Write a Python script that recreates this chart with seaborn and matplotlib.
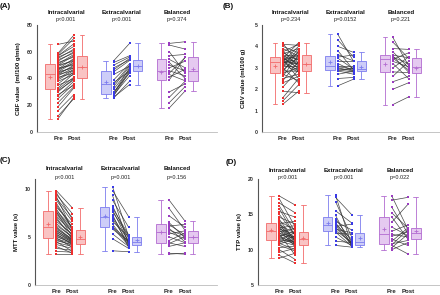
import numpy as np
import pandas as pd
import seaborn as sns
import matplotlib
matplotlib.use("Agg")
import matplotlib.pyplot as plt
import matplotlib.transforms as mtransforms

# groups and time points
groups = ["Intracalvarial", "Extracalvarial", "Balanced"]
times = ["Pre", "Post"]

# ---- CBF (ml/100 g/min) ----
cbf_intra_pre = [10, 12, 16, 19, 22, 25, 27, 28, 30, 31, 32, 33, 35, 36, 38, 39, 40, 41, 42, 43, 43,
                 44, 45, 45, 46, 47, 47, 48, 49, 50, 50, 51, 52, 53, 54, 55, 56, 57, 57, 58, 59, 65.5]
cbf_intra_post = [26, 25, 28, 33, 34, 36, 38, 35, 40, 39, 41, 44, 40, 45, 43, 46, 47, 44, 48, 50, 46,
                  49, 52, 48, 53, 51, 55, 50, 54, 57, 53, 58, 56, 60, 59, 62, 61, 64, 66, 70, 72.5, 68]
cbf_extra_pre = [25.5, 26, 27, 28, 28.5, 29, 30, 32, 34, 35.75, 37, 39, 43, 45, 46.5, 48, 50, 52, 53.25]
cbf_extra_post = [38, 35.5, 45, 42, 46, 48, 44, 47, 49, 50, 45.5, 51, 49.25, 53.5, 55, 54, 56, 57, 66.25]
cbf_bal_pre = [18, 22, 26, 30, 39, 41, 43, 44, 45.75, 48, 50, 52, 54.25, 57, 60, 65, 66.25]
cbf_bal_post = [30.75, 34, 38, 36, 56, 47, 38.25, 55.75, 42, 53, 45.75, 40, 48, 58, 44, 62, 67.5]

# ---- CBV (ml/100 g) ----
cbv_intra_pre = [1.3, 1.45, 1.6, 1.9, 2.1, 2.3, 2.4, 2.5, 2.6, 2.7, 2.75, 2.8, 2.85, 2.9, 3.0, 3.05,
                 3.1, 3.15, 3.2, 3.22, 3.24, 3.26, 3.3, 3.32, 3.35, 3.38, 3.4, 3.42, 3.44, 3.46, 3.47,
                 3.5, 3.55, 3.6, 3.65, 3.7, 3.75, 3.8, 3.9, 4.0, 4.1, 4.14]
cbv_intra_post = [1.9, 2.2, 2.5, 1.84, 2.9, 2.6, 3.3, 2.7, 3.6, 2.4, 3.0, 3.8, 2.84, 3.5, 2.3, 3.9,
                  3.1, 2.8, 3.7, 2.9, 3.4, 3.2, 4.0, 2.85, 3.15, 3.56, 2.5, 3.25, 4.17, 3.0, 3.45,
                  2.95, 3.6, 3.16, 3.9, 3.35, 4.1, 3.05, 3.55, 3.7, 4.05, 3.2]
cbv_extra_pre = [2.16, 2.5, 2.7, 2.85, 2.88, 2.9, 2.95, 3.0, 3.05, 3.1, 3.2, 3.3, 3.45, 3.5, 3.62,
                 3.8, 4.0, 4.3, 4.56]
cbv_extra_post = [2.47, 2.55, 2.84, 2.7, 3.0, 2.8, 2.9, 2.84, 2.95, 3.1, 2.85, 3.3, 2.94, 3.6, 3.32,
                  2.9, 3.72, 3.5, 3.3]
cbv_bal_pre = [1.28, 2.0, 2.35, 2.6, 2.81, 3.0, 3.2, 3.3, 3.4, 3.45, 3.5, 3.55, 3.59, 3.75, 3.9, 4.2, 4.42]
cbv_bal_post = [1.64, 2.3, 2.6, 3.3, 2.77, 3.5, 2.5, 3.05, 3.7, 2.9, 3.2, 2.8, 3.47, 3.0, 3.86, 3.45, 3.1]

# ---- MTT (s) ----
mtt_intra_pre = [3.2, 3.5, 3.8, 4.0, 4.2, 4.4, 4.5, 4.6, 4.7, 4.8, 4.9, 5.0, 5.1, 5.2, 5.3, 5.4, 5.5,
                 5.6, 5.7, 5.8, 5.95, 6.05, 6.2, 6.4, 6.6, 6.8, 7.0, 7.1, 7.3, 7.5, 7.6, 7.7, 7.9, 8.1,
                 8.3, 8.5, 8.8, 9.0, 9.2, 9.4, 9.6, 9.8]
mtt_intra_post = [3.2, 3.4, 3.6, 3.3, 3.8, 4.0, 3.5, 4.2, 4.1, 4.3, 3.9, 4.4, 4.3, 4.5, 4.2, 4.6, 4.4,
                  4.7, 4.5, 4.8, 4.6, 4.7, 5.0, 4.9, 5.3, 5.2, 4.8, 5.5, 5.6, 5.8, 5.0, 6.0, 5.4, 6.3,
                  5.9, 5.9, 6.6, 7.0, 5.7, 7.4, 6.8, 8.0]
mtt_extra_pre = [3.55, 4.8, 5.3, 5.8, 6.0, 6.05, 6.3, 6.6, 6.9, 7.07, 7.3, 7.6, 7.8, 8.0, 8.2, 8.8,
                 9.3, 9.8, 10.2]
mtt_extra_post = [3.45, 3.8, 4.0, 4.5, 4.1, 4.55, 4.2, 5.0, 4.3, 4.6, 3.9, 5.1, 4.45, 5.2, 4.8, 6.0,
                  4.14, 7.1, 5.05]
mtt_bal_pre = [3.2, 3.3, 4.0, 4.3, 4.38, 4.6, 5.0, 5.3, 5.48, 5.7, 5.9, 6.1, 6.28, 6.5, 7.2, 8.0, 8.86]
mtt_bal_post = [3.3, 3.2, 4.38, 5.0, 4.0, 5.4, 4.4, 5.62, 4.8, 5.1, 4.5, 6.3, 5.2, 4.9, 6.0, 5.7, 6.65]

# ---- TTP (s) ----
ttp_intra_pre = [8.8, 9.2, 9.6, 10.0, 10.3, 10.6, 10.8, 10.9, 11.0, 11.2, 11.3, 11.4, 11.6, 11.8, 11.9,
                 12.0, 12.1, 12.2, 12.3, 12.4, 12.5, 12.7, 12.8, 12.9, 13.0, 13.1, 13.2, 13.3, 13.5,
                 13.6, 13.7, 13.8, 14.0, 14.3, 14.6, 15.0, 15.4, 15.8, 16.2, 16.6, 17.2, 17.6]
ttp_intra_post = [9.5, 8.1, 10.2, 8.6, 10.5, 9.8, 11.5, 10.0, 12.0, 10.6, 11.2, 12.4, 10.8, 11.0, 12.6,
                  10.7, 11.6, 9.2, 11.8, 10.9, 13.0, 11.4, 10.4, 12.2, 11.55, 13.4, 10.7, 11.7, 12.3,
                  10.9, 14.0, 11.3, 12.8, 11.1, 13.6, 12.0, 14.6, 11.9, 12.5, 15.2, 13.2, 16.3]
ttp_extra_pre = [10.6, 11.2, 11.8, 12.3, 12.5, 12.7, 12.9, 13.1, 13.3, 13.45, 13.6, 13.8, 14.0, 14.4,
                 14.86, 15.5, 16.8, 17.4, 17.7]
ttp_extra_post = [10.36, 11.0, 10.6, 12.2, 10.5, 11.07, 12.4, 10.8, 13.6, 10.7, 11.5, 10.9, 12.8, 11.2,
                  10.45, 13.8, 11.8, 14.97, 10.65]
ttp_bal_pre = [10.0, 10.3, 10.6, 10.7, 10.84, 11.2, 11.5, 11.9, 12.17, 12.6, 13.2, 13.9, 14.63, 15.2,
               16.0, 17.0, 17.6]
ttp_bal_post = [11.0, 12.17, 9.4, 12.8, 11.3, 13.07, 10.6, 12.5, 11.8, 13.5, 12.0, 16.4, 11.5, 13.07,
                12.3, 17.4, 12.9]

pvals = {
    "CBF": ["p<0.001", "p<0.001", "p=0.374"],
    "CBV": ["p=0.234", "p=0.0152", "p=0.221"],
    "MTT": ["p<0.001", "p=0.001", "p=0.156"],
    "TTP": ["p<0.001", "p<0.001", "p=0.022"],
}

series = {
    "CBF": [(cbf_intra_pre, cbf_intra_post), (cbf_extra_pre, cbf_extra_post), (cbf_bal_pre, cbf_bal_post)],
    "CBV": [(cbv_intra_pre, cbv_intra_post), (cbv_extra_pre, cbv_extra_post), (cbv_bal_pre, cbv_bal_post)],
    "MTT": [(mtt_intra_pre, mtt_intra_post), (mtt_extra_pre, mtt_extra_post), (mtt_bal_pre, mtt_bal_post)],
    "TTP": [(ttp_intra_pre, ttp_intra_post), (ttp_extra_pre, ttp_extra_post), (ttp_bal_pre, ttp_bal_post)],
}

# long table
rows = []
for metric, grp_list in series.items():
    for g, (pre, post) in enumerate(grp_list):
        for i, (a, b) in enumerate(zip(pre, post)):
            rows.append((metric, groups[g], "Pre", f"{g}-{i}", a))
            rows.append((metric, groups[g], "Post", f"{g}-{i}", b))
df = pd.DataFrame(rows, columns=["metric", "group", "time", "pid", "value"])

# x layout per group: box pre, pre points, post points, box post
g_off = {grp: 7 * k for k, grp in enumerate(groups)}
df["pos"] = df["group"].map(g_off) + df["time"].map({"Pre": 1, "Post": 3})
df["bpos"] = df["group"].map(g_off) + df["time"].map({"Pre": 0, "Post": 4})

edge = {"Intracalvarial": "#F26A6A", "Extracalvarial": "#7C7CEE", "Balanced": "#B26BD0"}
fill = {"Intracalvarial": "#F9C3C3", "Extracalvarial": "#CDCDF8", "Balanced": "#E5C9F0"}
dots = {"Intracalvarial": "#EE2E2E", "Extracalvarial": "#3A3AE6", "Balanced": "#9A3CC0"}

sns.set_theme(style="white")
plt.rcParams["font.family"] = ["Liberation Sans", "DejaVu Sans"]

fig = plt.figure(figsize=(4.4, 2.95), dpi=100)
W, H = 440.0, 295.0

panels = [
    # label, metric, ylabel, ylim, yticks, axes px (left, right, top, bottom), label px, text px
    ("(A)", "CBF", "CBF value  (ml/100 g/min)", (0, 80), [0, 20, 40, 60, 80], (37, 217, 25, 132), (0, 6), (12, 20)),
    ("(B)", "CBV", "CBV value (ml/100 g)", (0, 5), [0, 1, 2, 3, 4, 5], (262, 440, 25, 132), (223, 6), (12, 20)),
    ("(C)", "MTT", "MTT value (s)", (0, 11), [0, 5, 10], (35, 217, 179, 285), (0, 161), (169, 177)),
    ("(D)", "TTP", "TTP value (s)", (5, 20), [5, 10, 15, 20], (258, 440, 179, 285), (226, 162), (170, 178)),
]

for lab, metric, ylab, ylim, yticks, (l, r, t, b), (lx, ly), (ty, py) in panels:
    ax = fig.add_axes([l / W, 1 - b / H, (r - l) / W, (b - t) / H])
    sub = df[df["metric"] == metric]
    for grp in groups:
        gs = sub[sub["group"] == grp]
        sns.boxplot(data=gs, x="bpos", y="value", orient="x", native_scale=True,
                    color=fill[grp], linecolor=edge[grp], saturation=1, width=0.3,
                    whis=(0, 100), linewidth=0.6, showmeans=True,
                    meanprops=dict(marker="+", markeredgecolor=edge[grp], markersize=2.5,
                                   markeredgewidth=0.6),
                    ax=ax)
        sns.lineplot(data=gs, x="pos", y="value", units="pid", estimator=None,
                     color="#333333", lw=0.5, alpha=0.9, ax=ax, legend=False, zorder=2)
        sns.scatterplot(data=gs, x="pos", y="value", color=dots[grp], marker="s", s=3.5,
                        linewidth=0, ax=ax, legend=False, zorder=3)

    ax.set_xlim(-1.65, 21.0)
    ax.set_ylim(*ylim)
    ax.set_yticks(yticks)
    xt = [g_off[g] + d for g in groups for d in (1, 3)]
    ax.set_xticks(xt)
    ax.set_xticklabels(["Pre", "Post"] * 3, fontsize=4.3, fontweight="bold", color="#222222")
    ax.tick_params(axis="y", labelsize=3.8, length=2, width=0.6, pad=1, colors="#333333")
    ax.tick_params(axis="x", length=2, width=0.5, pad=1, colors="#666666")
    for tl in ax.get_xticklabels():
        tl.set_color("#222222")
    for tl in ax.get_yticklabels():
        tl.set_fontweight("bold")
    ax.set_xlabel("")
    ax.set_ylabel(ylab, fontsize=4.3, fontweight="bold", color="#111111")
    ax.yaxis.set_label_coords(-16.0 / (r - l), 0.5)
    sns.despine(ax=ax)
    ax.spines["left"].set_color("#555555")
    ax.spines["left"].set_linewidth(0.8)
    ax.spines["bottom"].set_color("#BBBBBB")
    ax.spines["bottom"].set_linewidth(0.6)
    ax.set_facecolor("white")

    tr = mtransforms.blended_transform_factory(ax.transData, fig.transFigure)
    for k, grp in enumerate(groups):
        ax.text(g_off[grp] + 2, 1 - ty / H, grp, transform=tr, ha="center", va="center",
                fontsize=4.4, fontweight="bold", color="#111111")
        ax.text(g_off[grp] + 2, 1 - py / H, pvals[metric][k], transform=tr, ha="center",
                va="center", fontsize=4.0, color="#222222")
    fig.text(lx / W, 1 - ly / H, lab, ha="left", va="center", fontsize=5.8, fontweight="bold",
             color="#111111")

plt.savefig("out.png", dpi=100)
